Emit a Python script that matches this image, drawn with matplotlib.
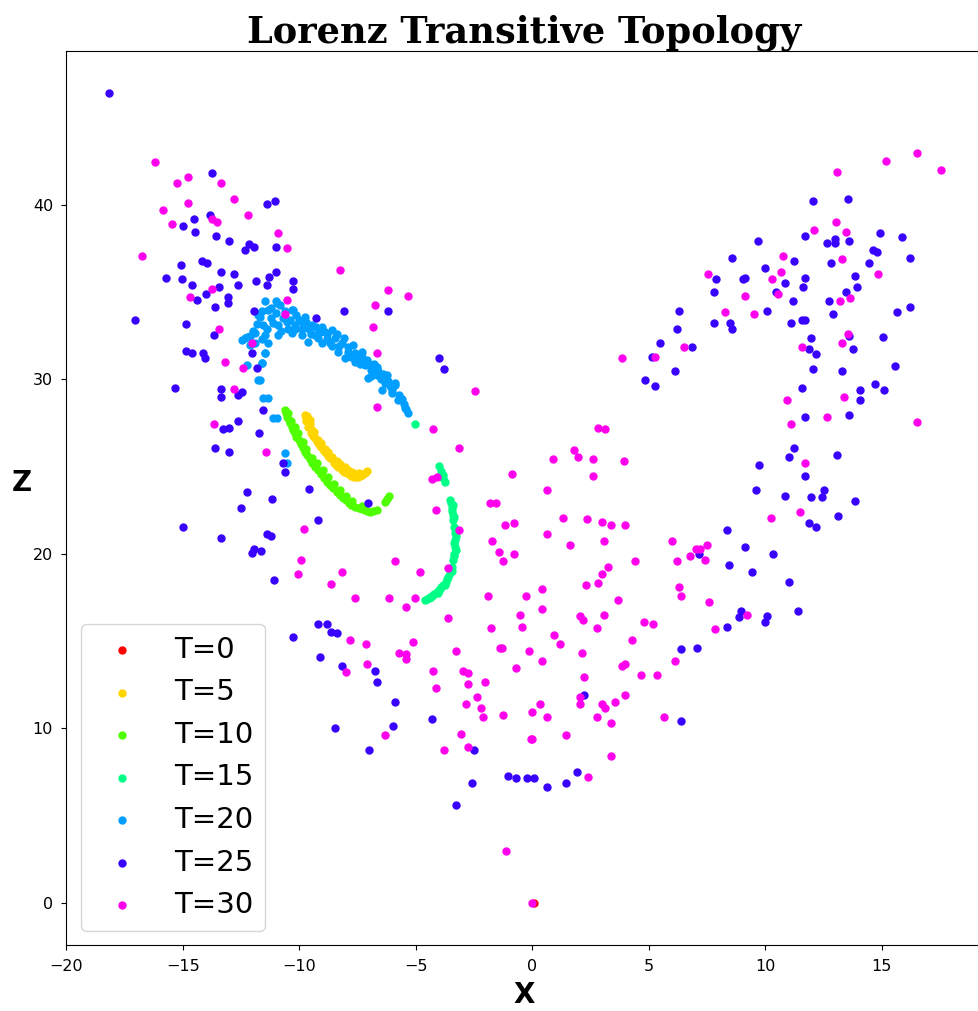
import numpy as np
import matplotlib
matplotlib.use("Agg")
import matplotlib.pyplot as plt

# snapshot times and their (x, z) positions of the ensemble
times = [0, 5, 10, 15, 20, 25, 30]

t0_pts = [(0.08, 0.0)]

t5_pts = [
    (-9.76, 27.96), (-9.70, 27.62), (-9.61, 27.29), (-9.48, 26.95), (-9.33, 26.62),
    (-9.19, 26.33), (-9.04, 26.05), (-8.87, 25.76), (-8.69, 25.47), (-8.51, 25.23),
    (-8.33, 25.00), (-8.15, 24.80), (-7.97, 24.62), (-7.77, 24.48), (-7.57, 24.39),
    (-7.38, 24.45), (-7.20, 24.62), (-7.11, 24.77), (-9.65, 27.90), (-9.45, 27.10),
    (-9.20, 26.50), (-8.90, 26.00), (-8.60, 25.55), (-8.25, 25.15), (-7.90, 24.80),
    (-7.60, 24.60), (-9.72, 27.78), (-9.56, 27.45), (-9.40, 26.78), (-9.26, 26.48),
    (-9.12, 26.19), (-8.96, 25.90), (-8.78, 25.62), (-8.42, 25.10), (-8.06, 24.71),
    (-7.87, 24.55), (-7.67, 24.43), (-7.47, 24.42), (-7.29, 24.52), (-9.55, 27.70),
    (-9.35, 27.00), (-9.05, 26.35), (-8.75, 25.85), (-8.40, 25.35), (-8.05, 24.95),
    (-7.75, 24.70), (-7.45, 24.65),
]

t10_pts = [
    (-10.62, 28.25), (-10.52, 27.86), (-10.40, 27.48), (-10.26, 27.10), (-10.12, 26.72),
    (-9.94, 26.29), (-9.76, 25.86), (-9.55, 25.43), (-9.33, 25.00), (-9.08, 24.57),
    (-8.83, 24.14), (-8.55, 23.75), (-8.26, 23.37), (-8.01, 23.08), (-7.76, 22.80),
    (-7.43, 22.61), (-7.20, 22.50), (-6.97, 22.42), (-6.68, 22.51), (-6.32, 22.99),
    (-6.22, 23.15), (-6.14, 23.32), (-10.50, 28.10), (-10.20, 27.30), (-9.85, 26.40),
    (-9.45, 25.50), (-9.00, 24.80), (-8.50, 24.00), (-8.00, 23.30),
    (-10.57, 28.05), (-10.46, 27.67), (-10.33, 27.29), (-10.19, 26.91), (-10.03, 26.50),
    (-9.85, 26.07), (-9.66, 25.64), (-9.44, 25.21), (-9.20, 24.78), (-8.95, 24.35),
    (-8.69, 23.95), (-8.40, 23.56), (-8.13, 23.22), (-7.88, 22.94), (-7.60, 22.70),
    (-7.30, 22.55), (-7.08, 22.45), (-6.83, 22.45), (-10.35, 27.60), (-10.05, 26.90),
    (-9.70, 26.00), (-9.25, 25.20), (-8.75, 24.40), (-8.25, 23.65), (-7.75, 23.05),
    (-7.30, 22.75),
]

t15_pts = [
    (-5.04, 27.44), (-3.99, 25.04), (-3.90, 24.75), (-3.82, 24.52), (-3.75, 24.14),
    (-3.85, 24.35), (-3.53, 23.09), (-3.46, 22.61), (-3.42, 22.25), (-3.40, 22.80),
    (-3.39, 21.94), (-3.35, 21.55), (-3.32, 21.17), (-3.30, 20.80), (-3.28, 21.00),
    (-3.32, 20.41), (-3.28, 20.20), (-3.35, 20.00), (-3.39, 19.65), (-3.46, 19.25),
    (-3.45, 19.00), (-3.53, 18.88), (-3.65, 18.55), (-3.82, 18.21), (-3.75, 18.20),
    (-3.96, 18.00), (-4.11, 17.83), (-4.05, 17.75), (-4.25, 17.65), (-4.35, 17.50),
    (-4.42, 17.45), (-4.50, 17.40), (-3.50, 19.10), (-3.60, 18.70), (-3.70, 18.40),
    (-3.90, 18.10), (-4.20, 17.70), (-4.40, 17.55), (-3.38, 19.90), (-3.36, 20.60),
    (-3.30, 21.40), (-3.37, 22.10), (-3.43, 22.45), (-3.50, 22.90), (-4.00, 17.90),
    (-4.60, 17.35),
]

t20_pts = [
    (-11.47, 34.50), (-11.02, 34.50), (-10.83, 34.27), (-11.76, 33.70), (-11.33, 33.99),
    (-10.33, 33.99), (-10.12, 33.70), (-9.76, 33.60), (-11.54, 33.13), (-11.12, 33.22),
    (-10.54, 33.32), (-10.19, 33.13), (-9.83, 33.22), (-9.47, 33.13), (-9.04, 33.03),
    (-12.33, 32.40), (-11.90, 32.65), (-11.47, 32.55), (-10.90, 32.55), (-10.33, 32.65),
    (-9.90, 32.55), (-9.33, 32.55), (-8.90, 32.74), (-8.61, 32.84), (-11.33, 32.07),
    (-9.61, 32.17), (-9.04, 32.07), (-8.47, 32.36), (-8.18, 32.07), (-7.90, 31.88),
    (-8.33, 31.60), (-7.61, 31.50), (-7.32, 31.31), (-8.04, 31.22), (-7.18, 30.83),
    (-6.90, 30.55), (-6.68, 30.26), (-7.04, 30.07), (-6.32, 29.78), (-6.47, 29.40),
    (-6.04, 29.21), (-5.75, 28.83), (-5.47, 28.35), (-5.32, 28.06), (-12.12, 31.98),
    (-11.47, 31.50), (-11.62, 30.93), (-12.26, 30.83), (-11.76, 29.97), (-11.54, 28.92),
    (-11.33, 28.92), (-11.11, 27.76), (-10.97, 27.76), (-7.61, 31.02), (-6.68, 30.74),
    (-6.25, 30.26), (-5.89, 29.69), (-10.62, 25.76), (-10.54, 25.19), (-11.69, 33.60),
    (-12.26, 32.46), (-10.97, 34.37), (-10.26, 33.99), (-11.00, 33.80), (-10.70, 33.50),
    (-10.40, 33.40), (-9.60, 32.90), (-9.20, 32.40), (-8.80, 32.30), (-8.60, 31.90),
    (-7.80, 31.30), (-7.40, 30.90), (-7.00, 30.90), (-6.50, 30.00), (-6.10, 29.60),
    (-5.70, 29.10), (-12.46, 32.26), (-11.70, 29.95), (-11.62, 30.93), (-11.47, 31.50),
    (-12.00, 32.80), (-11.80, 33.20), (-11.60, 33.90), (-11.20, 34.10), (-11.20, 33.50),
    (-10.90, 33.10), (-10.60, 33.90), (-10.50, 32.90), (-10.00, 33.40), (-9.90, 32.90),
    (-9.70, 33.30), (-9.50, 32.60), (-9.30, 33.00), (-9.10, 32.70), (-8.80, 32.60),
    (-8.70, 32.10), (-8.40, 32.60), (-8.30, 31.90), (-8.10, 32.40), (-7.90, 31.60),
    (-7.70, 32.00), (-7.50, 31.20), (-7.30, 31.60), (-7.10, 31.10), (-6.90, 30.20),
    (-6.80, 30.90), (-6.60, 30.50), (-6.40, 30.30), (-6.20, 29.90), (-6.00, 29.40),
    (-5.90, 29.80), (-5.60, 28.90), (-5.50, 28.60), (-5.40, 28.30), (-11.90, 32.10),
    (-12.10, 32.50), (-10.20, 32.90), (-10.80, 32.80), (-11.40, 32.90), (-11.60, 32.30),
]

t25_pts = [
    (-18.15, 46.45), (-13.75, 41.82), (-11.40, 40.03), (-11.06, 40.24), (-13.83, 39.44),
    (-14.53, 39.19), (-15.01, 38.77), (-14.46, 38.46), (-13.59, 38.25), (-13.03, 37.93),
    (-12.17, 37.75), (-11.93, 37.62), (-12.32, 37.41), (-11.00, 37.62), (-15.08, 36.57),
    (-14.16, 36.78), (-13.98, 36.67), (-13.36, 36.17), (-12.82, 36.03), (-11.00, 36.17),
    (-15.72, 35.84), (-15.02, 35.75), (-14.60, 35.42), (-13.43, 35.31), (-12.65, 35.42),
    (-11.86, 35.63), (-11.31, 35.86), (-11.40, 35.42), (-10.28, 35.65), (-10.28, 35.21),
    (-13.99, 34.89), (-14.38, 34.56), (-13.05, 34.73), (-13.05, 34.37), (-13.60, 34.16),
    (-11.93, 33.95), (-9.27, 33.53), (-8.10, 33.95), (-17.04, 33.42), (-14.85, 33.20),
    (-13.68, 32.52), (-6.20, 33.93),
    (12.03, 40.24), (13.53, 40.33), (11.72, 38.25), (12.66, 37.83), (12.98, 38.04),
    (12.98, 37.83), (13.61, 37.94), (14.94, 38.37), (15.89, 38.16), (9.67, 37.94),
    (8.57, 36.99), (11.25, 36.78), (12.82, 36.68), (14.62, 37.41), (14.79, 37.31),
    (14.46, 36.68), (16.20, 36.99), (9.99, 36.38), (7.87, 35.75), (9.04, 35.75),
    (9.13, 35.84), (11.70, 35.84), (10.86, 35.54), (11.63, 35.31), (13.85, 35.94),
    (13.93, 35.31), (7.78, 35.00), (10.46, 35.00), (13.45, 35.00), (11.17, 34.47),
    (12.73, 34.47), (6.30, 33.95), (10.06, 33.95), (12.89, 33.74), (15.65, 33.85),
    (16.20, 34.16), (6.22, 32.90), (7.78, 33.22), (8.50, 33.22), (8.57, 32.90),
    (11.09, 33.22), (11.56, 33.42), (11.72, 33.42), (11.96, 32.36), (13.61, 32.50),
    (15.04, 32.42),
    (-14.86, 31.64), (-14.60, 31.54), (-14.12, 31.54), (-14.05, 31.22), (-12.02, 31.50),
    (-11.83, 30.68), (-15.32, 29.53), (-13.36, 29.44), (-13.36, 29.00), (-12.62, 29.11),
    (-12.46, 29.30), (-11.56, 28.25), (-12.65, 27.64), (-13.26, 27.13), (-13.03, 27.22),
    (-11.72, 26.92), (-13.60, 26.08), (-13.03, 25.86), (-10.68, 25.23), (-10.60, 24.70),
    (-9.58, 23.74), (-12.24, 23.55), (-11.16, 23.13), (-12.49, 22.60), (-7.07, 22.94),
    (-9.20, 21.96), (-15.01, 21.54), (-13.36, 20.91), (-11.40, 21.14), (-11.23, 21.03),
    (-12.02, 20.07), (-11.93, 20.26), (-11.63, 20.19), (-11.07, 18.49), (-9.20, 15.98),
    (-8.81, 15.98),
    (-4.01, 31.22), (-3.77, 30.58), (5.50, 32.06), (5.16, 31.31), (4.86, 29.95),
    (5.26, 29.63),
    (6.85, 31.85), (6.12, 30.47), (11.87, 31.73), (12.19, 31.43), (13.76, 31.73),
    (15.58, 30.79), (12.03, 30.58), (13.29, 30.47), (11.57, 29.53), (14.06, 29.42),
    (14.06, 28.81), (14.71, 29.74), (15.11, 29.42), (11.72, 27.85), (13.61, 27.97),
    (11.25, 26.07), (11.02, 25.56), (13.06, 25.65), (9.74, 25.12), (11.72, 24.49),
    (9.60, 23.65), (10.86, 23.34), (11.96, 23.25), (12.43, 23.25), (12.50, 23.65),
    (13.85, 23.02), (13.13, 22.19), (11.87, 21.77), (12.19, 21.54), (8.34, 21.35),
    (9.13, 20.40), (10.32, 20.00), (7.17, 19.98), (8.43, 19.35), (9.44, 18.93),
    (11.02, 18.39), (11.42, 16.73), (8.97, 16.73), (8.87, 16.40), (10.07, 16.42),
    (9.99, 16.10), (8.34, 15.79),
    (-10.28, 15.25), (-8.64, 15.54), (-8.40, 15.45), (-9.10, 14.11), (-8.17, 13.57),
    (-8.48, 10.00), (-6.99, 8.76),
    (-6.77, 13.27), (-6.68, 12.64), (-5.88, 11.49), (-5.98, 10.11), (-4.32, 10.53),
    (-2.51, 8.74), (-2.58, 6.86), (-3.29, 5.60), (-1.02, 7.28), (-0.70, 7.17),
    (-0.23, 7.17), (0.08, 7.17), (0.64, 6.65), (1.43, 6.86), (1.90, 7.49),
    (2.21, 11.91), (6.37, 14.53), (7.08, 14.62), (6.37, 10.44),
]

t30_pts = [
    (-16.18, 42.46), (-15.26, 41.29), (-14.78, 41.61), (-13.36, 41.29), (-14.78, 40.14),
    (-12.82, 40.35), (-15.86, 39.72), (-12.19, 39.40), (-13.76, 39.19), (-13.52, 39.00),
    (-15.48, 38.90), (-10.93, 38.37), (-10.53, 37.52), (-16.74, 37.10), (-8.25, 36.26),
    (-13.76, 35.21), (-14.69, 34.70), (-10.53, 34.58), (-10.60, 33.74), (-13.43, 32.90),
    (-6.20, 35.12), (-5.34, 34.79), (-6.77, 34.26), (-6.84, 33.01),
    (13.06, 41.92), (15.18, 42.55), (16.50, 42.97), (17.54, 42.03), (13.05, 39.00),
    (12.10, 38.56), (13.45, 38.46), (10.77, 37.10), (13.28, 36.89), (7.55, 36.05),
    (10.69, 36.17), (10.30, 35.75), (9.13, 34.79), (10.53, 34.91), (14.85, 36.05),
    (13.22, 34.47), (13.62, 34.68), (8.26, 33.85), (9.51, 33.74), (13.53, 32.61),
    (-12.02, 32.08), (-13.20, 31.00), (-12.42, 30.68), (-12.82, 29.44), (-13.68, 27.43),
    (-11.44, 25.86), (-9.81, 21.45), (-9.91, 19.67), (-10.06, 18.83), (-8.17, 18.93),
    (-8.64, 18.29), (-7.62, 17.47),
    (-6.68, 31.54), (-6.68, 28.39), (-2.44, 29.34), (-4.24, 27.14), (-3.15, 26.07),
    (-4.31, 24.30), (-4.08, 24.41), (-4.15, 22.50), (-3.14, 21.35), (-3.62, 19.16),
    (-5.88, 19.58), (-4.80, 18.94), (-6.13, 17.47), (-5.43, 16.96), (-5.03, 17.47),
    (-3.62, 16.31), (-0.86, 24.60), (0.64, 23.67), (-1.82, 22.92), (-1.56, 22.92),
    (-1.19, 21.68), (-0.79, 21.79), (-1.72, 20.72), (-1.41, 20.09), (-1.25, 19.58),
    (-0.79, 20.00), (0.64, 21.14), (1.34, 22.08), (1.64, 20.51), (2.36, 21.98),
    (2.99, 21.85), (3.39, 21.68), (4.00, 21.68), (3.06, 20.72), (0.87, 25.46),
    (1.80, 25.98), (1.97, 25.56), (2.60, 25.44), (2.59, 24.49), (2.83, 27.24),
    (3.14, 27.13), (3.93, 25.35), (3.84, 31.22), (5.25, 31.31), (4.39, 19.58),
    (3.23, 19.25), (3.00, 18.83), (2.84, 18.31), (2.29, 18.20), (0.40, 17.99),
    (-0.25, 17.57), (-1.88, 17.57), (0.40, 16.84), (-0.53, 16.52), (3.69, 17.36),
    (2.04, 16.42), (2.16, 16.21), (3.07, 16.52), (4.79, 16.10), (5.19, 16.00),
    (-1.79, 15.77), (-0.46, 15.83), (2.76, 15.73),
    (6.51, 31.85), (11.56, 31.85), (13.29, 32.06), (10.93, 28.81), (11.09, 27.43),
    (13.38, 29.02), (12.66, 27.85), (16.50, 27.55), (11.72, 25.23), (10.23, 22.08),
    (11.47, 22.39), (5.98, 20.72), (6.22, 19.58), (6.75, 19.88), (7.01, 20.30),
    (7.20, 20.30), (7.48, 20.51), (7.40, 19.65), (6.30, 18.10), (6.38, 17.59),
    (7.57, 17.24), (9.20, 16.52), (7.85, 15.68),
    (-7.84, 15.04), (-7.15, 14.83), (-8.01, 13.25), (-7.11, 13.69),
    (-5.11, 14.93), (-5.74, 14.32), (-5.40, 14.24), (-5.40, 13.97), (-3.29, 14.41),
    (-1.39, 14.62), (-1.31, 14.62), (-0.15, 14.41), (0.40, 13.88), (0.94, 15.37),
    (1.18, 14.83), (2.13, 14.32), (4.26, 15.04), (3.84, 13.57), (4.00, 13.69),
    (4.65, 13.06), (5.35, 13.06), (2.21, 12.94), (2.04, 11.80), (2.04, 11.37),
    (2.99, 11.37), (3.14, 11.16), (3.54, 11.49), (4.00, 11.91), (2.76, 10.65),
    (3.39, 10.32), (5.66, 10.65), (3.39, 8.43), (2.41, 7.19), (1.43, 9.60),
    (-0.06, 9.39), (0.01, 9.39), (0.33, 11.37), (-0.02, 10.95), (0.64, 10.65),
    (-0.70, 13.48), (-1.25, 10.74), (-2.04, 12.64), (-2.36, 11.80), (-2.19, 11.16),
    (-2.12, 10.63), (-2.75, 12.52), (-2.75, 13.15), (-2.99, 13.27), (-2.84, 11.37),
    (-4.24, 13.27), (-4.15, 12.31), (-3.07, 9.69), (-2.75, 8.95), (-3.77, 8.76),
    (-6.30, 9.60), (-1.11, 2.98), (0.00, 0.00), (6.12, 13.88),
]

snapshots = [t0_pts, t5_pts, t10_pts, t15_pts, t20_pts, t25_pts, t30_pts]
colors = plt.cm.hsv(np.array(times) / 35.0)

fig = plt.figure(figsize=(9.79, 10.11), dpi=100)
ax = fig.add_axes([0.0677, 0.0649, 0.9353, 0.885])

for t, pts, c in zip(times, snapshots, colors):
    arr = np.array(pts)
    ax.scatter(arr[:, 0], arr[:, 1], s=25, color=c, label=f"T={t}")

ax.set_xlim(-20.0, 19.3)
ax.set_ylim(-2.45, 48.85)
ax.set_xticks([-20, -15, -10, -5, 0, 5, 10, 15])
ax.set_yticks([0, 10, 20, 30, 40])
ax.tick_params(labelsize=11.5, pad=6)

ax.set_title("Lorenz Transitive Topology", fontsize=26.5, fontweight="bold",
             family="DejaVu Serif")
ax.set_xlabel("X", fontsize=20, fontweight="bold", va="center")
ax.xaxis.set_label_coords(0.4998, -0.0554)
ax.set_ylabel("Z", fontsize=20, fontweight="bold", rotation=0,
              ha="center", va="center")
ax.yaxis.set_label_coords(-0.0484, 0.517)

ax.legend(loc="lower left", fontsize=21)

fig.savefig("out.png", dpi=100)
